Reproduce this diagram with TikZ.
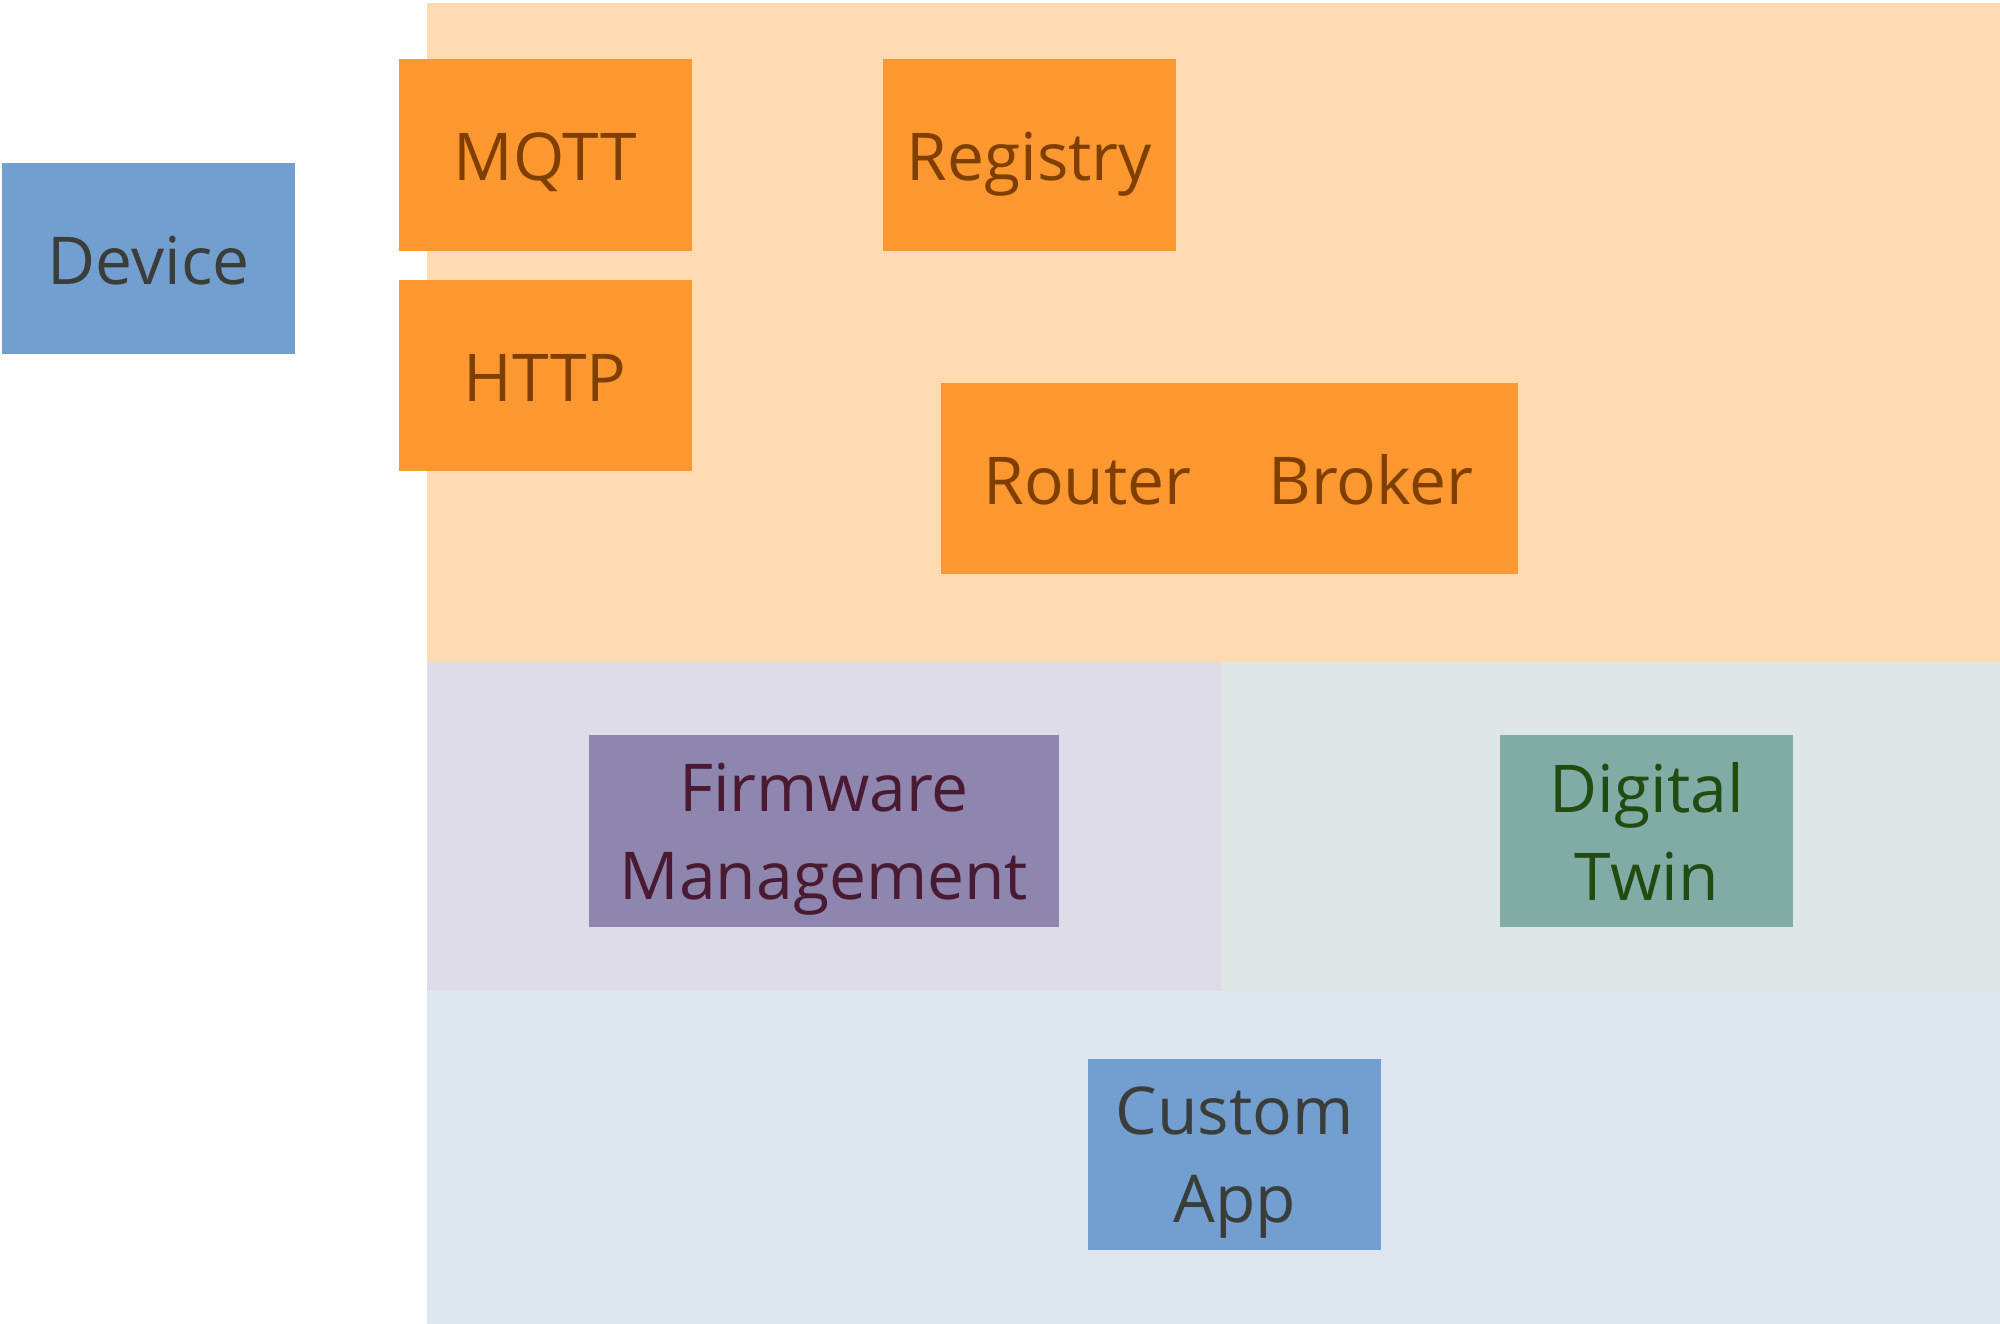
\documentclass[tikz,border=0pt]{standalone}
\usepackage{fontspec}
\setmainfont{Open Sans}
\usepackage{xcolor}

\definecolor{bgorange}{HTML}{FFDAB3}
\definecolor{boxorange}{HTML}{FD9830}
\definecolor{txtorange}{HTML}{7F3F00}
\definecolor{boxblue}{HTML}{729FCF}
\definecolor{txtgrey}{HTML}{3A3D3A}
\definecolor{bgpurple}{HTML}{DEDCE6}
\definecolor{boxpurple}{HTML}{8E86AE}
\definecolor{txtpurple}{HTML}{4A1A33}
\definecolor{bggreen}{HTML}{DEE7E5}
\definecolor{boxgreen}{HTML}{81ACA6}
\definecolor{txtgreen}{HTML}{224B12}
\definecolor{bgblue}{HTML}{DEE6EF}

\begin{document}
\begin{tikzpicture}[x=0.01cm,y=-0.01cm,
        box/.style={rectangle,minimum width=2.3cm,minimum height=1.5cm,inner sep=0pt,
                    align=center,text depth=0pt,font=\fontsize{14.7}{19.6}\selectfont},
        oneline/.style={text height=11.5pt},
        orangebox/.style={box,oneline,fill=boxorange,text=txtorange},
        bluebox/.style={box,fill=boxblue,text=txtgrey}]
        \useasboundingbox (0,0) rectangle (1568,1038);

        % layers
        \fill[bgorange] (335,2)   rectangle (1568,519);
        \fill[bgpurple] (335,519) rectangle (957,777);
        \fill[bggreen]  (957,519) rectangle (1568,777);
        \fill[bgblue]   (335,777) rectangle (1568,1038);

        \coordinate (D) at (116.5,202.5);
        \coordinate (M) at (427.5,121.5);
        \coordinate (H) at (427.5,294.5);
        \coordinate (G) at (807,121.5);
        \coordinate (R) at (852.5,375);
        \coordinate (B) at (1075,375);
        \coordinate (F) at (646,651.5);
        \coordinate (T) at (1291,651.5);
        \coordinate (C) at (968,905);

        \node[bluebox,oneline]   (device)   at (D) {Device};
        \node[orangebox]         (mqtt)     at (M) {MQTT};
        \node[orangebox]         (http)     at (H) {HTTP};
        \node[orangebox]         (registry) at (G) {Registry};
        \node[orangebox]         (router)   at (R) {Router};
        \node[orangebox]         (broker)   at (B) {Broker};
        \node[box,minimum width=3.68cm,fill=boxpurple,text=txtpurple] (firmware) at (F) {Firmware\\Management};
        \node[box,fill=boxgreen,text=txtgreen] (twin)   at (T) {Digital\\Twin};
        \node[bluebox]                          (custom) at (C) {Custom\\App};
\end{tikzpicture}
\end{document}
